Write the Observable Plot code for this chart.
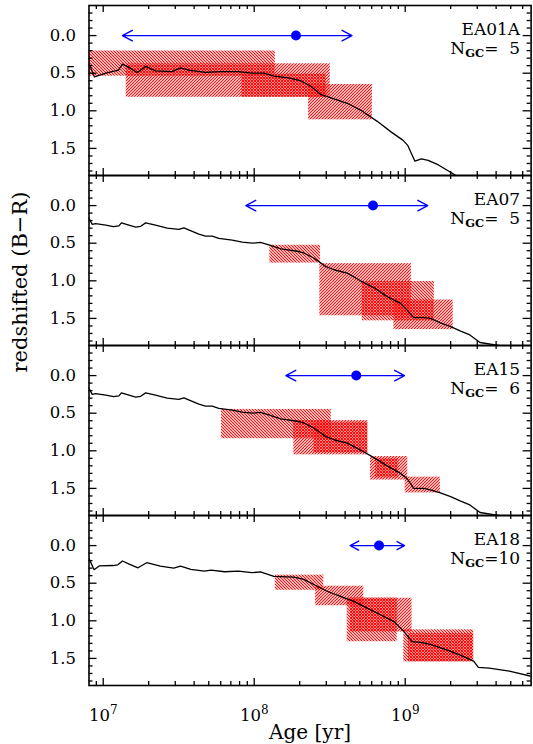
<!DOCTYPE html>
<html>
<head>
<meta charset="utf-8">
<script src="https://cdn.jsdelivr.net/npm/d3@7"></script>
<script src="https://cdn.jsdelivr.net/npm/@observablehq/plot@0.6"></script>
<style>
html,body{margin:0;padding:0;background:#fff;}
#chart svg{display:block;}
</style>
</head>
<body>
<div id="chart"></div>
<script>
// ---------------- data ----------------
const panels = ["EA01A", "EA07", "EA15", "EA18"];
const nGC = [5, 5, 6, 10];

// model colour evolution curves: [age (yr), redshifted B-R]
const curveEA01A = [
  [8.1e6,0.38],[8.75e6,0.55],[1.04e7,0.50],[1.26e7,0.46],[1.34e7,0.38],[1.47e7,0.42],[1.68e7,0.49],
  [1.91e7,0.41],[2.22e7,0.47],[2.86e7,0.48],[3.25e7,0.43],[3.69e7,0.46],[4.75e7,0.49],[6.0e7,0.48],
  [7.8e7,0.48],[9.7e7,0.50],[1.16e8,0.50],[1.35e8,0.54],[1.65e8,0.56],[2.03e8,0.60],[2.36e8,0.67],
  [2.75e8,0.78],[3.37e8,0.84],[4.13e8,0.90],[5.06e8,0.99],[6.53e8,1.14],[8.05e8,1.28],[9.64e8,1.39],
  [1.04e9,1.46],[1.16e9,1.67],[1.28e9,1.64],[1.42e9,1.66],[1.66e9,1.72],[2.21e9,1.87],[3.0e9,2.05]
];
const curveEA07 = [
  [8.0e6,0.16],[8.46e6,0.25],[8.9e6,0.24],[1.04e7,0.26],[1.17e7,0.28],[1.27e7,0.27],[1.32e7,0.23],
  [1.48e7,0.26],[1.64e7,0.285],[1.77e7,0.275],[1.91e7,0.23],[2.22e7,0.26],[2.65e7,0.30],[3.17e7,0.315],
  [3.42e7,0.295],[4.30e7,0.38],[4.76e7,0.405],[5.27e7,0.405],[5.83e7,0.435],[7.15e7,0.46],[8.33e7,0.487],
  [9.71e7,0.50],[1.10e8,0.49],[1.28e8,0.53],[1.50e8,0.576],[1.93e8,0.607],[2.13e8,0.63],[2.48e8,0.697],
  [2.97e8,0.808],[3.37e8,0.853],[4.13e8,0.898],[5.06e8,1.0],[6.20e8,1.09],[7.60e8,1.21],[9.31e8,1.30],
  [1.03e9,1.39],[1.14e9,1.49],[1.33e9,1.49],[1.47e9,1.50],[1.71e9,1.56],[2.0e9,1.61],[2.33e9,1.67],
  [2.68e9,1.72],[3.13e9,1.82],[3.85e9,1.85],[4.98e9,1.88],[7.0e9,1.95]
];
const curveEA15 = [
  [8.0e6,0.16],[8.46e6,0.25],[8.9e6,0.24],[1.04e7,0.26],[1.17e7,0.28],[1.27e7,0.27],[1.32e7,0.23],
  [1.48e7,0.26],[1.64e7,0.285],[1.77e7,0.275],[1.91e7,0.23],[2.22e7,0.26],[2.65e7,0.30],[3.17e7,0.315],
  [3.42e7,0.295],[4.30e7,0.38],[4.76e7,0.405],[5.27e7,0.405],[5.83e7,0.435],[7.15e7,0.46],[8.33e7,0.487],
  [9.71e7,0.50],[1.10e8,0.49],[1.28e8,0.53],[1.50e8,0.576],[1.93e8,0.607],[2.13e8,0.63],[2.48e8,0.697],
  [2.97e8,0.808],[3.37e8,0.853],[4.13e8,0.898],[5.06e8,0.99],[6.20e8,1.09],[7.60e8,1.20],[9.31e8,1.30],
  [1.03e9,1.37],[1.14e9,1.50],[1.33e9,1.50],[1.47e9,1.52],[1.71e9,1.56],[2.0e9,1.61],[2.33e9,1.67],
  [2.68e9,1.72],[3.13e9,1.82],[3.85e9,1.85],[4.98e9,1.88],[7.0e9,1.95]
];
const curveEA18 = [
  [8.09e6,0.18],[8.7e6,0.32],[9.4e6,0.27],[1.16e7,0.265],[1.25e7,0.255],[1.34e7,0.205],[1.50e7,0.25],
  [1.70e7,0.295],[1.94e7,0.228],[2.39e7,0.272],[2.93e7,0.30],[3.25e7,0.272],[3.80e7,0.317],[4.67e7,0.34],
  [5.18e7,0.326],[6.37e7,0.348],[7.84e7,0.34],[9.64e7,0.36],[1.10e8,0.35],[1.35e8,0.41],[1.83e8,0.42],
  [2.13e8,0.45],[2.61e8,0.54],[3.04e8,0.607],[3.72e8,0.674],[4.57e8,0.741],[5.60e8,0.831],[6.86e8,0.92],
  [8.41e8,1.01],[9.79e8,1.14],[1.11e9,1.278],[1.26e9,1.287],[1.47e9,1.314],[1.90e9,1.39],[2.32e9,1.456],
  [2.84e9,1.536],[3.05e9,1.62],[3.6e9,1.63],[4.9e9,1.67],[6.9e9,1.74]
];

// cluster boxes: [age min, age max, colour min, colour max]
const boxesEA01A = [
  [7.0e6, 1.38e8, 0.205, 0.54],
  [1.42e7, 3.19e8, 0.375, 0.82],
  [8.26e7, 3.0e8, 0.51, 0.82],
  [2.29e8, 6.07e8, 0.65, 1.12]
];
const boxesEA07 = [
  [1.27e8, 2.75e8, 0.527, 0.764],
  [2.72e8, 1.10e9, 0.772, 1.465],
  [5.19e8, 1.56e9, 1.009, 1.532],
  [8.41e8, 2.08e9, 1.255, 1.649]
];
const boxesEA15 = [
  [6.07e7, 3.24e8, 0.45, 0.839],
  [1.83e8, 5.65e8, 0.598, 1.054],
  [2.48e8, 5.65e8, 0.62, 1.03],
  [5.89e8, 1.04e9, 1.076, 1.389],
  [6.36e8, 9.06e8, 1.10, 1.36],
  [1.0e9, 1.71e9, 1.35, 1.56]
];
const boxesEA18 = [
  [1.38e8, 2.89e8, 0.393, 0.594],
  [2.55e8, 5.32e8, 0.54, 0.80],
  [4.13e8, 8.85e8, 0.697, 1.278],
  [4.35e8, 1.11e9, 0.70, 1.15],
  [9.78e8, 2.84e9, 1.12, 1.545],
  [1.05e9, 2.84e9, 1.17, 1.545]
];

// age estimates (blue arrows)
const ageLow  = [1.34e7, 8.8e7, 1.62e8, 4.32e8];
const ageBest = [1.89e8, 6.12e8, 4.74e8, 6.71e8];
const ageHigh = [4.44e8, 1.41e9, 9.9e8, 9.9e8];
const ageBarColour = 0.0;

// ticks
const xMajorTicks = [1e7, 1e8, 1e9];
const xMinorTicks = [9e6, 2e7, 3e7, 4e7, 5e7, 6e7, 7e7, 8e7, 9e7,
                     2e8, 3e8, 4e8, 5e8, 6e8, 7e8, 8e8, 9e8,
                     2e9, 3e9, 4e9, 5e9, 6e9];
const yMajorTicks = [0.0, 0.5, 1.0, 1.5];
const yMinorTicks = [-0.3, -0.2, -0.1, 0.1, 0.2, 0.3, 0.4, 0.6, 0.7, 0.8, 0.9,
                     1.1, 1.2, 1.3, 1.4, 1.6, 1.7, 1.8];

// ---------------- tables ----------------
const curves = [curveEA01A, curveEA07, curveEA15, curveEA18];
const boxes = [boxesEA01A, boxesEA07, boxesEA15, boxesEA18];
const curveRows = panels.flatMap((p, i) => curves[i].map(([age, c]) => ({panel: p, age, c})));
const boxRows = panels.flatMap((p, i) => boxes[i].map(([a0, a1, c0, c1], k) => ({panel: p, a0, a1, c0, c1, k})));
const ageRows = panels.map((p, i) => ({panel: p, lo: ageLow[i], best: ageBest[i], hi: ageHigh[i], yc: ageBarColour}));

// ---------------- layout ----------------
const W = 533, H = 744, mL = 88.5, mR = 2.4, mT = 5, mB = 59;
const panelH = (H - mT - mB) / panels.length;
const innerW = W - mL - mR;
const font = "'DejaVu Serif', serif";
const tickStyle = {stroke: "black", strokeWidth: 1.3};

const svg = Plot.plot({
  width: W, height: H,
  marginLeft: mL, marginRight: mR, marginTop: mT, marginBottom: mB,
  style: {fontFamily: font, fontSize: "16px", color: "black", background: "white"},
  x: {type: "log", domain: [8.05e6, 6.82e9]},
  y: {domain: [1.86, -0.4]},
  fy: {domain: panels, padding: 0, axis: null},
  marks: [
    Plot.rect(boxRows, {filter: d => d.k % 2 === 0, x1: "a0", x2: "a1", y1: "c0", y2: "c1", fy: "panel", fill: "url(#hatchA)", clip: true}),
    Plot.rect(boxRows, {filter: d => d.k % 2 === 1, x1: "a0", x2: "a1", y1: "c0", y2: "c1", fy: "panel", fill: "url(#hatchB)", clip: true}),
    Plot.line(curveRows, {x: "age", y: "c", fy: "panel", stroke: "black", strokeWidth: 1.3, clip: true}),
    Plot.arrow(ageRows, {x1: "best", x2: "lo", y1: "yc", y2: "yc", fy: "panel", stroke: "blue", strokeWidth: 1.4, headLength: 12, headAngle: 56}),
    Plot.arrow(ageRows, {x1: "best", x2: "hi", y1: "yc", y2: "yc", fy: "panel", stroke: "blue", strokeWidth: 1.4, headLength: 12, headAngle: 56}),
    Plot.dot(ageRows, {x: "best", y: "yc", fy: "panel", r: 5, fill: "blue"}),
    // inward ticks on all four sides
    Plot.tickX(xMajorTicks, {x: d => d, insetTop: panelH - 7, ...tickStyle}),
    Plot.tickX(xMajorTicks, {x: d => d, insetBottom: panelH - 7, ...tickStyle}),
    Plot.tickX(xMinorTicks, {x: d => d, insetTop: panelH - 4, ...tickStyle}),
    Plot.tickX(xMinorTicks, {x: d => d, insetBottom: panelH - 4, ...tickStyle}),
    Plot.tickY(yMajorTicks, {y: d => d, insetRight: innerW - 8, ...tickStyle}),
    Plot.tickY(yMajorTicks, {y: d => d, insetLeft: innerW - 8, ...tickStyle}),
    Plot.tickY(yMinorTicks, {y: d => d, insetRight: innerW - 4, ...tickStyle}),
    Plot.tickY(yMinorTicks, {y: d => d, insetLeft: innerW - 4, ...tickStyle}),
    Plot.frame({stroke: "black", strokeWidth: 1.6}),
    Plot.axisY(yMajorTicks, {tickSize: 0, tickPadding: 13, tickFormat: d3.format(".1f"), fontSize: 16.5, label: null}),
    Plot.axisX(xMajorTicks, {tickSize: 0, tickPadding: 24, tickFormat: d => "10^" + Math.round(Math.log10(d)), fontSize: 16.5, label: null}),
    Plot.text(panels, {fy: d => d, text: d => d, frameAnchor: "top-right", dx: -11, dy: 17.5, lineAnchor: "top", fontSize: 17}),
    Plot.text(panels, {fy: d => d, text: (d, i) => "NGC=" + String(nGC[i]).padStart(2, "\u2007"), frameAnchor: "top-right", dx: -11, dy: 36, lineAnchor: "top", fontSize: 17}),
    Plot.text(["Age [yr]"], {fy: ["EA18"], text: d => d, frameAnchor: "bottom", dy: 39, lineAnchor: "top", fontSize: 20}),
    Plot.text(["redshifted (B\u2212R)"], {fy: ["EA07"], text: d => d, frameAnchor: "bottom-left", dx: -62, dy: 27, rotate: -90, fontSize: 21})
  ]
});

// hatch patterns
const defs = d3.select(svg).insert("defs", ":first-child");
const mkPattern = (id, path) => {
  defs.append("pattern")
    .attr("id", id).attr("patternUnits", "userSpaceOnUse")
    .attr("width", 3).attr("height", 3)
    .append("path").attr("d", path)
    .attr("stroke", "#ff0000").attr("stroke-width", 1.05).attr("fill", "none");
};
mkPattern("hatchA", "M-1,-1L4,4M-1,2L1,4M2,-1L4,1");
mkPattern("hatchB", "M-1,4L4,-1M-1,1L1,-1M2,4L4,2");

// N_GC subscripts and superscript exponents on x tick labels
d3.select(svg).selectAll("text").each(function () {
  const s = this.textContent;
  const t = d3.select(this);
  const m = /^10\^(\d+)$/.exec(s);
  if (m) {
    t.text(null);
    t.append("tspan").text("10");
    t.append("tspan").attr("dy", -7).attr("font-size", 12).text(m[1]);
    return;
  }
  if (/^NGC=/.test(s)) {
    t.text(null);
    t.append("tspan").text("N");
    t.append("tspan").attr("font-size", 11.5).attr("font-weight", "bold").attr("dy", 3).text("GC");
    t.append("tspan").attr("dy", -3).attr("font-size", 17).text(s.slice(3));
  }
});

document.getElementById("chart").appendChild(svg);
</script>
</body>
</html>
